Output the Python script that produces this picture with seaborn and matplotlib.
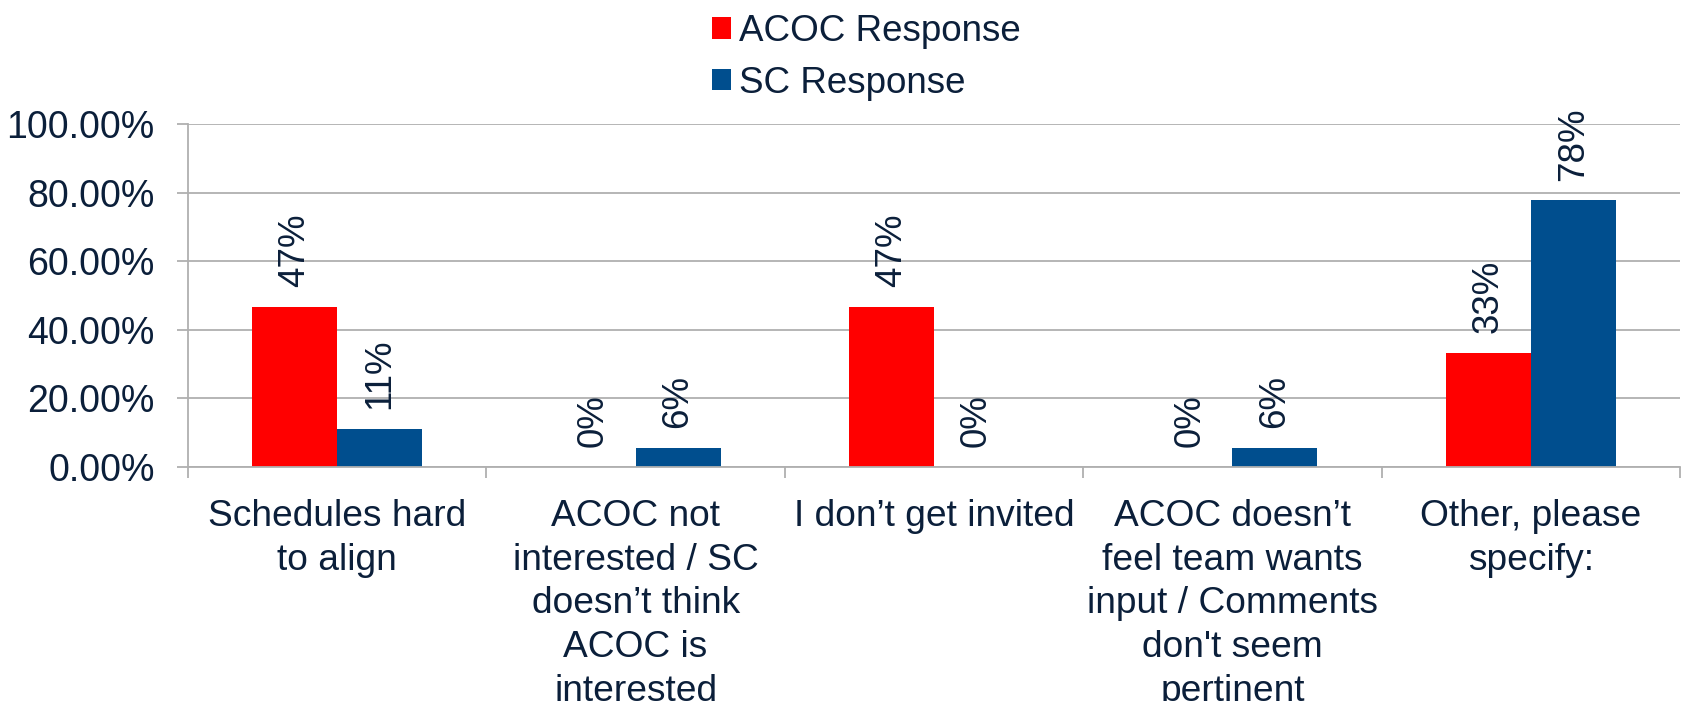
import matplotlib
matplotlib.use("Agg")
import matplotlib.pyplot as plt
import seaborn as sns
import pandas as pd
import numpy as np
from matplotlib.patches import Patch
from matplotlib.ticker import FixedLocator

categories = [
    "Schedules hard\nto align",
    "ACOC not\ninterested / SC\ndoesn\u2019t think\nACOC is\ninterested",
    "I don\u2019t get invited",
    "ACOC doesn\u2019t\nfeel team wants\ninput / Comments\ndon't seem\npertinent",
    "Other, please\nspecify:",
]
series_names = ["ACOC Response", "SC Response"]
acoc_values = [46.7, 0.0, 46.7, 0.0, 33.3]
sc_values = [11.1, 5.6, 0.0, 5.6, 77.8]
y_ticks = [0, 20, 40, 60, 80, 100]

RED = "#FF0000"
BLUE = "#004E8E"
TEXT = "#0B1F3A"
GRID = "#B0B0B0"

sns.set_theme(style="white")
plt.rcParams["font.family"] = ["Liberation Sans", "DejaVu Sans"]
plt.rcParams["text.color"] = TEXT

df = pd.DataFrame({
    "category": categories * 2,
    "series": [series_names[0]] * len(categories) + [series_names[1]] * len(categories),
    "value": acoc_values + sc_values,
})

fig = plt.figure(figsize=(16.86, 7.01), dpi=100)
ax = fig.add_axes([188 / 1686, 1 - 466.7 / 701, (1680 - 188) / 1686, (466.7 - 124) / 701])

sns.barplot(data=df, x="category", y="value", hue="series", order=categories,
            hue_order=series_names, palette=[RED, BLUE], width=0.57,
            saturation=1, ax=ax, legend=False, linewidth=0)

ax.set_ylim(0, 100)
ax.set_xlim(-0.5, len(categories) - 0.5)
ax.set_yticks(y_ticks)
ax.set_yticklabels([f"{v:.2f}%" for v in y_ticks])
ax.yaxis.grid(True, color=GRID, linewidth=1.3)
ax.set_axisbelow(True)
ax.set_xlabel("")
ax.set_ylabel("")

for s in ["top", "right"]:
    ax.spines[s].set_visible(False)
for s in ["left", "bottom"]:
    ax.spines[s].set_color(GRID)
    ax.spines[s].set_linewidth(1.3)

ax.tick_params(axis="y", which="major", length=8, width=1.3, color=GRID,
               labelsize=27, labelcolor=TEXT, pad=16, left=True)
ax.tick_params(axis="x", which="major", length=0, labelsize=26.7,
               labelcolor=TEXT, pad=23, bottom=True)
ax.xaxis.set_minor_locator(FixedLocator(np.arange(-0.5, len(categories), 1.0)))
ax.tick_params(axis="x", which="minor", length=8, width=1.3, color=GRID, bottom=True)
for lbl in ax.get_xticklabels():
    lbl.set_multialignment("center")
    lbl.set_linespacing(1.33)
    lbl.set_verticalalignment("top")

for cont in ax.containers:
    ax.bar_label(cont, labels=[f"{v:.0f}%" for v in cont.datavalues],
                 rotation=90, padding=14, fontsize=26.5, color=TEXT)

handles = [Patch(facecolor=RED, edgecolor="none"), Patch(facecolor=BLUE, edgecolor="none")]
fig.legend(handles, series_names, loc="upper left",
           bbox_to_anchor=(712 / 1686, 1 - 14 / 701), frameon=False,
           fontsize=26.5, handlelength=0.52, handleheight=0.52,
           handletextpad=0.22, labelspacing=0.45, borderpad=0, borderaxespad=0,
           labelcolor=TEXT)

fig.savefig("out.png", dpi=100)
